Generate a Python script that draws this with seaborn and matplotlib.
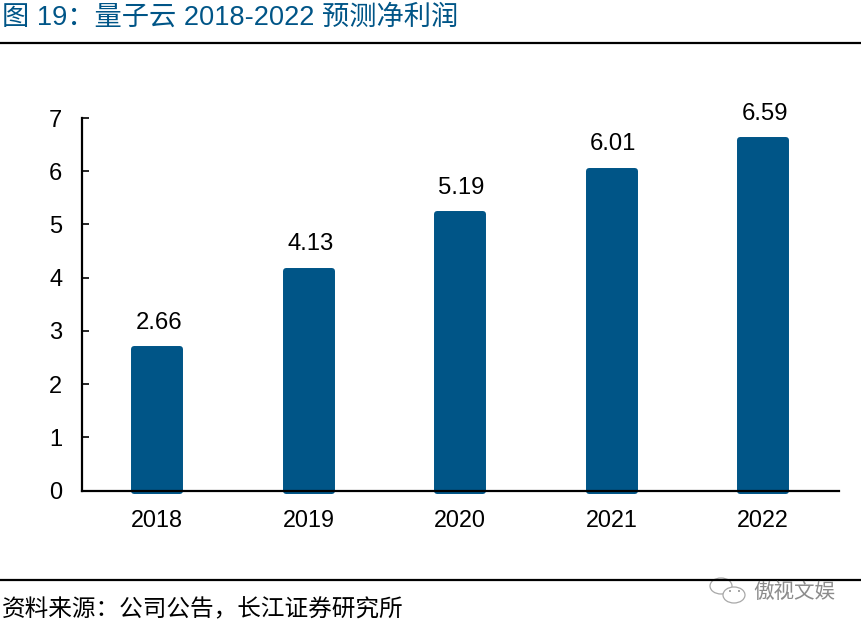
import matplotlib
matplotlib.use('Agg')
import matplotlib.pyplot as plt
from matplotlib.lines import Line2D
from matplotlib.patches import Ellipse
import pandas as pd
import seaborn as sns

years = ['2018', '2019', '2020', '2021', '2022']
profit = [2.66, 4.13, 5.19, 6.01, 6.59]
y_ticks = [0, 1, 2, 3, 4, 5, 6, 7]

sns.set_style('white')
plt.rcParams['font.family'] = ['Liberation Sans', 'Noto Sans CJK SC', 'DejaVu Sans']

W, H = 862, 629
fig = plt.figure(figsize=(W / 100, H / 100), dpi=100)
ax = fig.add_axes([81.5 / W, 1 - 490.5 / H, 757.5 / W, 372.5 / H])

df = pd.DataFrame({'year': years, 'profit': profit})
sns.barplot(data=df, x='year', y='profit', color='#005587', saturation=1, width=0.304,
            edgecolor='#005587', linewidth=4.3, ax=ax)
for bar in ax.patches:
    bar.set_clip_on(False)
    bar.set_joinstyle('round')

ax.set_xlim(-0.5, 4.5)
ax.set_ylim(0, 7)
ax.set_yticks(y_ticks)
ax.set_xlabel('')
ax.set_ylabel('')
ax.tick_params(axis='x', length=0, labelsize=16.8, pad=13.5, labelcolor='black')
ax.tick_params(axis='y', direction='in', left=True, length=5, width=1.4, labelsize=17, pad=13.8, labelcolor='black')
sns.despine(ax=ax)
for side in ['left', 'bottom']:
    ax.spines[side].set_linewidth(1.6)
    ax.spines[side].set_color('black')
    ax.spines[side].set_zorder(5)

for x, v in enumerate(profit):
    ax.annotate(f'{v:.2f}', (x, v), xytext=(1, 11), textcoords='offset points',
                ha='center', va='bottom', fontsize=17.2, color='black')

# header and footer rules
fig.add_artist(Line2D([0, 1], [1 - 43 / H, 1 - 43 / H], color='black', lw=1.6))
fig.add_artist(Line2D([0, 1], [1 - 579.5 / H, 1 - 579.5 / H], color='black', lw=1.6))

fig.text(2 / W, 1 - 18 / H, '图 19\uff1a量子云 2018-2022 预测净利润', fontsize=19.65,
         color='#005587', ha='left', va='center')
fig.text(2 / W, 1 - 610 / H, '资料来源\uff1a公司公告\uff0c长江证券研究所', fontsize=17,
         color='black', ha='left', va='center')

# watermark
fig.text(753 / W, 1 - 592 / H, '傲视文娱', fontsize=14.8, color='#8c8c8c', ha='left', va='center')
for cx, cy, w, h in [(721, 586, 22, 16), (734, 595, 22, 16)]:
    fig.add_artist(Ellipse((cx / W, 1 - cy / H), w / W, h / H, transform=fig.transFigure,
                           facecolor='white', edgecolor='#a8a8a8', lw=0.9))
for cx, cy in [(730, 591), (739, 591)]:
    fig.add_artist(Ellipse((cx / W, 1 - cy / H), 2 / W, 2 / H, transform=fig.transFigure,
                           facecolor='#909090', edgecolor='none'))

fig.savefig('out.png', dpi=100)
